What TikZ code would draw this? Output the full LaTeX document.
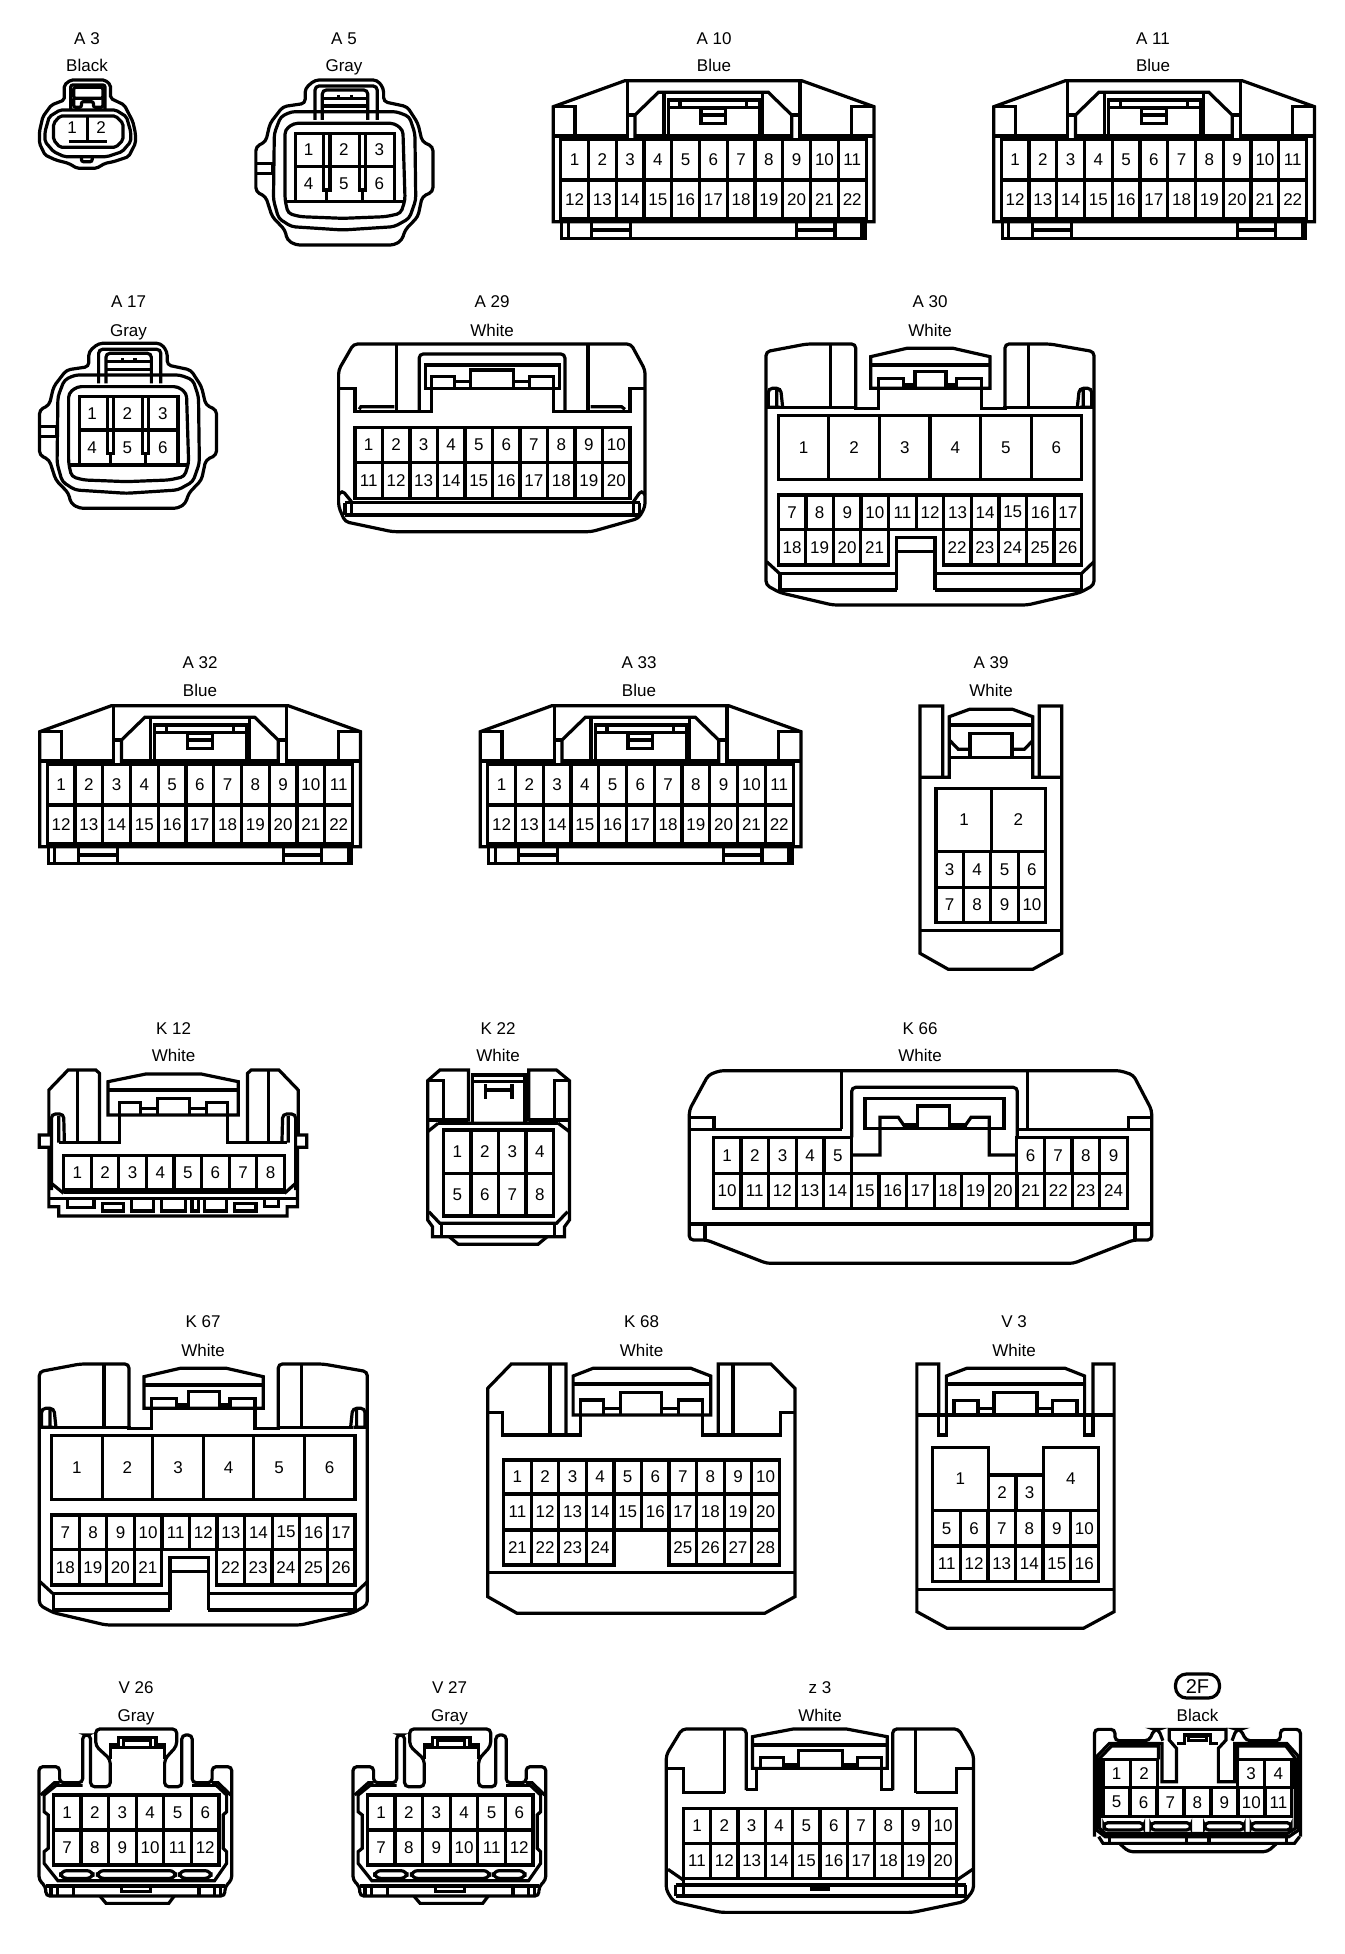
\documentclass[tikz,border=0pt]{standalone}
\usepackage{fontspec}
\setmainfont{Liberation Sans}
\usepackage{tikz}
\tikzset{crop/.style n args = {3}{shift = {(#1, #2)}, xscale = 1/#3, yscale = 1/3}}
\tikzset{pinnum/.style = {font = \fontsize{8.5}{10}\selectfont, inner sep = 0}}
\tikzset{tagtext/.style = {font = \fontsize{8.5}{10}\selectfont, inner sep = 0, text height = 6pt, text depth = 0pt}}
\tikzset{round/.style = {rounded corners = 2pt}}
\tikzset{oval/.style = {draw, rounded corners = 5.5pt, minimum width = 22pt, minimum height = 12pt, inner sep = 0}}

\newcommand{\pinrow}[7]{
    \foreach \n [count = \k from 0] in {#6, ..., #7} {
        \draw ({#2 + \k * #4}, #3) rectangle ++(#4, #5);
        \node [pinnum] (#1-\n) at ({#2 + (\k + .5) * #4}, {#3 + #5 / 2}) {\n};
    }
}
\newcommand{\tagpair}[6]{
    \node [tagtext] (#1-tag) at (#4, #5) {#2};
    \node [tagtext] (#1-color) at (#4, #6) {#3};
}

\newcommand{\bluehousing}[1]{
    \draw (40, 485) -- (40, 140) -- (255, 62) -- (785, 62) -- (1002, 140) -- (1002, 485) -- cycle;
    \draw (65, 487) -- (65, 535) -- (975, 535) -- (975, 487);
    \draw (85, 487) -- (85, 535) (965, 487) -- (965, 535);
    \draw (155, 487) -- (155, 535) (272, 487) -- (272, 535) (155, 510) -- (272, 510);
    \draw (770, 487) -- (770, 535) (885, 487) -- (885, 535) (770, 510) -- (885, 510);
    \draw (40, 140) -- (105, 140) -- (105, 228) (935, 228) -- (935, 140) -- (1002, 140);
    \draw (40, 228) -- (262, 228) (780, 228) -- (1002, 228) (285, 228) -- (755, 228);
    \draw [round] (262, 238) -- (262, 62) (780, 238) -- (780, 62);
    \draw (285, 238) -- (285, 165) -- (355, 97) -- (685, 97) -- (755, 165) -- (755, 238);
    \draw (262, 165) -- (285, 165) (755, 165) -- (780, 165);
    \draw (372, 97) -- (372, 228) (668, 97) -- (668, 228);
    \draw (385, 238) -- (385, 120) -- (660, 120) -- (660, 238);
    \draw (385, 142) -- (660, 142) (420, 120) -- (420, 142) (620, 120) -- (620, 142);
    \draw (483, 145) rectangle (557, 190) (483, 165) -- (557, 165);
    \pinrow{#1}{62}{238}{83.3}{122}{1}{11}
    \pinrow{#1}{62}{360}{83.3}{117}{12}{22}
}

\newcommand{\tabhousing}[1]{
    \draw [round] (712, 310) -- (712, 265) -- (735, 240) -- (880, 240) -- (895, 265) -- (895, 305) -- (950, 320) -- (975, 370) -- (985, 425) -- (1010, 440) -- (1010, 575) -- (985, 590) -- (975, 650) -- (945, 690) -- (938, 720) -- (920, 735) -- (690, 735) -- (670, 720) -- (665, 690) -- (635, 650) -- (620, 590) -- (597, 575) -- (597, 440) -- (620, 425) -- (630, 370) -- (660, 320) -- cycle;
    \draw (600, 490) -- (637, 490) -- (637, 520) -- (600, 520);
    \draw [round] (640, 400) -- (655, 350) -- (680, 335) -- (925, 335) -- (955, 350) -- (968, 400) -- (970, 600) -- (955, 655) -- (920, 680) -- (800, 690) -- (680, 680) -- (650, 655) -- (638, 600) -- cycle;
    \draw [round] (665, 390) -- (685, 370) -- (920, 370) -- (940, 390) -- (945, 600) -- (935, 640) -- (900, 650) -- (800, 655) -- (700, 650) -- (672, 640) -- (665, 600) -- cycle;
    \draw (690, 605) -- (690, 400) -- (920, 400) -- (920, 605);
    \draw (690, 500) -- (920, 500) (665, 605) -- (945, 605);
    \draw (755, 400) -- (755, 570) -- (770, 570) -- (770, 400) (762, 570) -- (762, 605);
    \draw (838, 400) -- (838, 570) -- (852, 570) -- (852, 400) (845, 570) -- (845, 605);
    \draw [round] (735, 360) -- (735, 258) -- (880, 258) -- (880, 360);
    \draw [round] (752, 360) -- (752, 270) -- (858, 270) -- (858, 360);
    \draw (755, 295) -- (855, 295) (755, 318) -- (855, 318) (790, 285) -- (790, 295) (820, 285) -- (820, 295);
    \node [pinnum] (#1-1) at (720, 450) {1};
    \node [pinnum] (#1-2) at (802, 450) {2};
    \node [pinnum] (#1-3) at (885, 450) {3};
    \node [pinnum] (#1-4) at (720, 552) {4};
    \node [pinnum] (#1-5) at (802, 552) {5};
    \node [pinnum] (#1-6) at (885, 552) {6};
}

\newcommand{\widehousing}[1]{
    \draw [round] (347, 385) -- (347, 192) -- (200, 192) -- (78, 215) -- (78, 915) -- (120, 938) -- (278, 975) -- (862, 975) -- (1020, 938) -- (1062, 915) -- (1062, 215) -- (930, 192) -- (795, 192) -- (795, 385);
    \draw (115, 382) -- (347, 382) -- (347, 385) -- (415, 385) -- (415, 325) (725, 325) -- (725, 385) -- (795, 385) -- (795, 382) -- (1020, 382);
    \draw (272, 195) -- (272, 382) (865, 195) -- (865, 382);
    \draw [round] (85, 382) -- (85, 325) -- (122, 325) -- (128, 382) (110, 330) -- (110, 382) (78, 382) -- (120, 382);
    \draw [round] (1055, 382) -- (1055, 325) -- (1018, 325) -- (1012, 382) (1030, 330) -- (1030, 382) (1020, 382) -- (1062, 382);
    \draw (392, 325) -- (392, 230) -- (500, 205) -- (640, 205) -- (750, 230) -- (750, 325) -- cycle;
    \draw (392, 255) -- (750, 255);
    \draw (415, 325) -- (415, 295) -- (490, 295) -- (490, 325) (490, 315) -- (525, 315);
    \draw (525, 325) -- (525, 275) -- (618, 275) -- (618, 325) (618, 315) -- (650, 315);
    \draw (650, 325) -- (650, 295) -- (725, 295) -- (725, 325);
    \pinrow{#1}{115}{407}{151.67}{191}{1}{6}
    \pinrow{#1}{115}{645}{82.73}{103}{7}{17}
    \pinrow{#1}{115}{748}{82.5}{107}{18}{21}
    \pinrow{#1}{610}{748}{83}{107}{22}{26}
    \draw (470, 930) -- (470, 772) -- (585, 772) -- (585, 930) (470, 815) -- (585, 815);
    \draw (120, 880) -- (120, 930) -- (470, 930) (585, 930) -- (1025, 930) -- (1025, 880);
    \draw (115, 880) -- (470, 880) (585, 880) -- (1025, 880);
    \draw (80, 845) -- (118, 880) (1062, 845) -- (1025, 880);
}

\newcommand{\grayhousing}[1]{
    \draw [round] (55, 660) -- (55, 320) -- (115, 320) -- (115, 368) -- (182, 368) -- (182, 225) -- (205, 225) -- (205, 380) -- (262, 380) -- (262, 298) -- (220, 258) -- (220, 207) -- (455, 207) -- (455, 258) -- (420, 298) -- (420, 380) -- (470, 380) -- (470, 225) -- (500, 225) -- (500, 368) -- (558, 368) -- (558, 320) -- (615, 320) -- (615, 660) -- (595, 680) -- (595, 708) -- (75, 708) -- (75, 680) -- cycle;
    \draw (182, 376) -- (105, 376) -- (70, 405) -- (70, 455) -- (82, 465) -- (82, 565) -- (70, 575) -- (70, 610) -- (110, 662) -- (565, 662) -- (600, 610) -- (600, 575) -- (590, 565) -- (590, 465) -- (600, 455) -- (600, 405) -- (570, 376) -- (500, 376);
    \draw (60, 405) -- (100, 368) -- (115, 368) (558, 368) -- (575, 368) -- (612, 405);
    \draw (262, 298) -- (262, 255) -- (285, 255) -- (285, 232) -- (395, 232) -- (395, 255) -- (420, 255) -- (420, 298);
    \draw (300, 240) rectangle (380, 262) (262, 262) -- (420, 262);
    \pinrow{#1}{97}{405}{80.17}{105}{1}{6}
    \pinrow{#1}{97}{510}{80.17}{105}{7}{12}
    \draw [rounded corners = 3pt] (118, 632) rectangle (212, 655);
    \draw [rounded corners = 3pt] (225, 632) rectangle (452, 655);
    \draw [rounded corners = 3pt] (463, 632) rectangle (555, 655);
    \draw (75, 678) -- (595, 678);
    \draw (90, 678) -- (90, 708) (108, 678) -- (108, 708) (155, 678) -- (155, 708);
    \draw (520, 678) -- (520, 708) (565, 678) -- (565, 708) (582, 678) -- (582, 708);
    \draw (295, 678) -- (295, 695) -- (378, 695) -- (378, 678);
    \draw (232, 708) -- (250, 730) -- (432, 730) -- (448, 708);
}

\begin{document}
\begin{tikzpicture}[x = 0.5pt, y = -0.5pt, line width = 1.6pt]
    \useasboundingbox (0, 0) rectangle (1344, 1954);

    \tagpair{A3}{A 3}{Black}{87}{38}{65}
    \tagpair{A5}{A 5}{Gray}{344}{38}{65}
    \tagpair{A10}{A 10}{Blue}{714}{38}{65}
    \tagpair{A11}{A 11}{Blue}{1153}{38}{65}
    \tagpair{A17}{A 17}{Gray}{128.5}{301.5}{330}
    \tagpair{A29}{A 29}{White}{492}{301.5}{330}
    \tagpair{A30}{A 30}{White}{930}{301.5}{330}
    \tagpair{A32}{A 32}{Blue}{200}{662.5}{690}
    \tagpair{A33}{A 33}{Blue}{639}{662.5}{690}
    \tagpair{A39}{A 39}{White}{991}{662.5}{690}
    \tagpair{K12}{K 12}{White}{173.5}{1028}{1055}
    \tagpair{K22}{K 22}{White}{498}{1028}{1055}
    \tagpair{K66}{K 66}{White}{920}{1028}{1055}
    \tagpair{K67}{K 67}{White}{203}{1321.5}{1350}
    \tagpair{K68}{K 68}{White}{641.5}{1321.5}{1350}
    \tagpair{V3}{V 3}{White}{1014}{1321.5}{1350}
    \tagpair{V26}{V 26}{Gray}{136}{1687}{1715}
    \tagpair{V27}{V 27}{Gray}{449.5}{1687}{1715}
    \tagpair{Z3}{z 3}{White}{820}{1687}{1715}
    \node [oval] (F2-tag) at (1197.5, 1686) {2F};
    \node [tagtext] (F2-color) at (1197.5, 1715) {Black};

    \begin{scope}[crop = {0}{0}{2.333}, rounded corners = 1pt]
        \draw (150, 300) -- (150, 255) -- (165, 240) -- (245, 240) -- (258, 255) -- (258, 295) -- (290, 315) -- (310, 365) -- (316, 400) -- (316, 430) -- (300, 470) -- (265, 485) -- (245, 490) -- (225, 505) -- (180, 505) -- (160, 490) -- (130, 480) -- (105, 465) -- (92, 430) -- (92, 395) -- (100, 350) -- (120, 315) -- cycle;
        \draw (105, 395) -- (115, 350) -- (140, 330) -- (270, 330) -- (295, 350) -- (305, 395) -- (305, 425) -- (285, 455) -- (250, 470) -- (150, 470) -- (125, 455) -- (105, 425) -- cycle;
        \draw (125, 370) -- (140, 348) -- (270, 348) -- (287, 370) -- (287, 420) -- (270, 442) -- (140, 442) -- (125, 420) -- cycle;
        \draw (204, 348) -- (204, 425) (160, 424) -- (250, 424);
        \draw (165, 330) -- (165, 255) -- (245, 255) -- (245, 330);
        \draw (172, 295) -- (172, 262) -- (240, 262) -- (240, 295) -- cycle;
        \draw (172, 295) -- (172, 322) -- (190, 322) -- (190, 305) -- (218, 305) -- (218, 322) -- (240, 322) -- (240, 295);
        \draw (190, 470) -- (190, 485) -- (215, 485) -- (215, 470);
        \node [pinnum] (A3-1) at (168, 382) {1};
        \node [pinnum] (A3-2) at (236, 382) {2};
    \end{scope}

    \begin{scope}[crop = {0}{0}{2.333}]
        \tabhousing{A5}
    \end{scope}
    \begin{scope}[crop = {-216.4}{263.3}{2.333}]
        \tabhousing{A17}
    \end{scope}

    \begin{scope}[crop = {540}{60}{3}]
        \bluehousing{A10}
    \end{scope}
    \begin{scope}[crop = {980.5}{60}{3}]
        \bluehousing{A11}
    \end{scope}
    \begin{scope}[crop = {26.5}{685}{3}]
        \bluehousing{A32}
    \end{scope}
    \begin{scope}[crop = {467}{685}{3}]
        \bluehousing{A33}
    \end{scope}

    \begin{scope}[crop = {0}{280}{2.333}]
        \draw [round] (790, 270) -- (825, 192) -- (1472, 192) -- (1505, 270) -- (1505, 680) -- (1490, 715) -- (1380, 755) -- (915, 755) -- (805, 725) -- (790, 680) -- cycle;
        \draw (790, 325) -- (828, 325) -- (828, 395) -- (1007, 395) -- (1007, 325);
        \draw (1292, 325) -- (1292, 395) -- (1470, 395) -- (1470, 325) -- (1505, 325);
        \draw [round] (925, 392) -- (925, 195) (1372, 392) -- (1372, 195);
        \draw [round] (978, 392) -- (978, 222) -- (1318, 222) -- (1318, 392);
        \draw (992, 325) -- (992, 255) -- (1305, 255) -- (1305, 325) -- cycle;
        \draw (1007, 322) -- (1007, 290) -- (1060, 290) -- (1060, 322) (1060, 305) -- (1097, 305);
        \draw (1097, 322) -- (1097, 270) -- (1198, 270) -- (1198, 322) (1198, 305) -- (1235, 305);
        \draw (1235, 322) -- (1235, 290) -- (1292, 290) -- (1292, 322);
        \draw (838, 388) -- (842, 380) -- (920, 380) (1378, 380) -- (1450, 380) -- (1458, 388);
        \pinrow{A29}{828}{442}{64.2}{106}{1}{10}
        \pinrow{A29}{828}{548}{64.2}{107}{11}{20}
        \draw (805, 668) -- (1492, 668) (805, 705) -- (1492, 705);
        \draw (805, 668) -- (805, 705) (820, 668) -- (820, 705) (1478, 668) -- (1478, 705) (1492, 668) -- (1492, 705);
        \draw [round] (790, 645) -- (798, 630) -- (820, 665) (1505, 645) -- (1497, 630) -- (1478, 665);
    \end{scope}

    \begin{scope}[crop = {740}{280}{3}]
        \widehousing{A30}
    \end{scope}
    \begin{scope}[crop = {13.3}{1300}{3}]
        \widehousing{K67}
    \end{scope}

    \begin{scope}[crop = {880}{650}{3}]
        \draw (188, 382) -- (188, 168) -- (120, 168) -- (120, 910) -- (205, 958) -- (458, 958) -- (545, 910) -- (545, 168) -- (478, 168) -- (478, 382);
        \draw (120, 382) -- (208, 382) -- (208, 200) -- (268, 178) -- (398, 178) -- (458, 200) -- (458, 382) -- (545, 382);
        \draw (208, 225) -- (458, 225) (208, 322) -- (458, 322);
        \draw (270, 322) -- (270, 250) -- (396, 250) -- (396, 322);
        \draw (210, 272) -- (235, 298) -- (270, 298) (458, 272) -- (433, 298) -- (396, 298);
        \draw (168, 415) rectangle (335, 605) (335, 415) rectangle (497, 605);
        \node [pinnum] (A39-1) at (252, 510) {1};
        \node [pinnum] (A39-2) at (415, 510) {2};
        \pinrow{A39}{168}{605}{82.25}{107}{3}{6}
        \pinrow{A39}{168}{712}{82.25}{105}{7}{10}
        \draw (120, 842) -- (545, 842);
    \end{scope}

    \begin{scope}[crop = {20}{1010}{2.703}]
        \draw (215, 400) -- (215, 190) -- (205, 180) -- (130, 180) -- (78, 240) -- (78, 375) -- (52, 375) -- (52, 412) -- (78, 412) -- (78, 590) -- (105, 590) -- (105, 618) -- (722, 618) -- (722, 590) -- (750, 590) -- (750, 412) -- (775, 412) -- (775, 375) -- (752, 375) -- (752, 240) -- (700, 180) -- (625, 180) -- (615, 190) -- (615, 400);
        \draw (155, 183) -- (155, 398) (672, 183) -- (672, 398);
        \draw [round] (85, 540) -- (85, 312) -- (118, 312) -- (120, 398) (105, 318) -- (105, 398);
        \draw [round] (745, 540) -- (745, 312) -- (710, 312) -- (708, 398) (725, 318) -- (725, 398);
        \draw (105, 398) -- (268, 398) -- (268, 315) (560, 315) -- (560, 398) -- (722, 398);
        \draw (238, 315) -- (238, 215) -- (340, 192) -- (490, 192) -- (590, 215) -- (590, 315) -- cycle;
        \draw (238, 240) -- (590, 240);
        \draw (268, 315) -- (268, 278) -- (325, 278) -- (325, 312) (325, 295) -- (372, 295);
        \draw (372, 312) -- (372, 265) -- (458, 265) -- (458, 312) (458, 295) -- (505, 295);
        \draw (505, 312) -- (505, 278) -- (560, 278) -- (560, 315);
        \pinrow{K12}{118}{437}{74.6}{103}{1}{8}
        \draw (118, 548) -- (715, 548) (78, 565) -- (750, 565);
        \draw (85, 520) -- (118, 550) (745, 520) -- (715, 550);
        \draw (128, 565) -- (128, 592) -- (200, 592) -- (200, 565);
        \draw (222, 580) rectangle (280, 603);
        \draw (302, 565) -- (302, 603) -- (360, 603) -- (360, 565);
        \draw (382, 565) -- (382, 603) -- (448, 603) -- (448, 565);
        \draw (465, 568) -- (465, 603) -- (482, 603) -- (482, 568);
        \draw (498, 565) -- (498, 603) -- (558, 603) -- (558, 565);
        \draw (580, 580) rectangle (638, 603);
        \draw (660, 568) -- (660, 590) -- (698, 590) -- (698, 568);
    \end{scope}

    \begin{scope}[crop = {20}{1010}{2.703}]
        \draw (1212, 335) -- (1212, 180) -- (1135, 180) -- (1102, 212) -- (1102, 630) -- (1115, 650) -- (1115, 680) -- (1472, 680) -- (1472, 650) -- (1485, 630) -- (1485, 212) -- (1450, 180) -- (1375, 180) -- (1375, 335);
        \draw (1222, 335) -- (1222, 195) -- (1365, 195) -- (1365, 335);
        \draw (1102, 212) -- (1145, 212) -- (1145, 330) (1102, 330) -- (1212, 330);
        \draw (1485, 212) -- (1445, 212) -- (1445, 330) (1375, 330) -- (1485, 330);
        \draw (1222, 215) -- (1365, 215);
        \draw (1258, 222) -- (1258, 268) (1330, 222) -- (1330, 268) (1258, 240) -- (1330, 240);
        \draw (1130, 340) -- (1455, 340) (1102, 365) -- (1130, 340) (1485, 365) -- (1455, 340);
        \pinrow{K22}{1145}{360}{74.25}{130}{1}{4}
        \pinrow{K22}{1145}{490}{74.25}{128}{5}{8}
        \draw (1105, 605) -- (1135, 640) -- (1450, 640) -- (1480, 605);
        \draw (1140, 640) -- (1140, 680) (1445, 640) -- (1445, 680);
        \draw (1160, 680) -- (1185, 703) -- (1400, 703) -- (1425, 680);
    \end{scope}

    \begin{scope}[crop = {670}{1010}{3}]
        \draw [round] (58, 300) -- (115, 195) -- (150, 182) -- (1350, 182) -- (1390, 195) -- (1445, 300) -- (1445, 690) -- (1390, 690) -- (1210, 760) -- (290, 760) -- (110, 690) -- (58, 690) -- cycle;
        \draw (58, 322) -- (132, 322) -- (132, 358) (1375, 358) -- (1375, 322) -- (1445, 322);
        \draw (58, 358) -- (515, 358) (1040, 358) -- (1445, 358);
        \draw [round] (515, 358) -- (515, 182) (1072, 358) -- (1072, 182);
        \draw [round] (545, 382) -- (545, 232) -- (1042, 232) -- (1042, 382);
        \draw (585, 355) -- (585, 265) -- (1002, 265) -- (1002, 355) -- cycle;
        \draw (742, 355) -- (742, 288) -- (838, 288) -- (838, 355);
        \draw (545, 435) -- (630, 435) -- (630, 322) -- (685, 322) -- (708, 355);
        \draw (1040, 435) -- (958, 435) -- (958, 322) -- (903, 322) -- (880, 355);
        \draw (700, 345) -- (742, 345) (838, 345) -- (890, 345);
        \pinrow{K66}{130}{382}{83}{108}{1}{5}
        \pinrow{K66}{1040}{382}{83}{108}{6}{9}
        \pinrow{K66}{130}{490}{82.8}{105}{10}{24}
        \draw (58, 642) -- (1445, 642) (105, 642) -- (105, 690) (1395, 642) -- (1395, 690);
    \end{scope}

    \begin{scope}[crop = {470}{1300}{2.376}]
        \draw (228, 405) -- (228, 192) -- (98, 192) -- (42, 265) -- (42, 890) -- (112, 940) -- (700, 940) -- (772, 890) -- (772, 265) -- (715, 192) -- (590, 192) -- (590, 405);
        \draw (42, 338) -- (78, 338) -- (78, 405) -- (262, 405) -- (262, 345);
        \draw (552, 345) -- (552, 405) -- (738, 405) -- (738, 338) -- (772, 338);
        \draw (190, 195) -- (190, 405) (625, 195) -- (625, 405);
        \draw (245, 345) -- (245, 228) -- (292, 205) -- (525, 205) -- (572, 228) -- (572, 345) -- cycle;
        \draw (245, 252) -- (572, 252);
        \draw (262, 345) -- (262, 300) -- (318, 300) -- (318, 345) (318, 325) -- (358, 325);
        \draw (358, 345) -- (358, 278) -- (455, 278) -- (455, 345) (455, 325) -- (495, 325);
        \draw (495, 345) -- (495, 300) -- (552, 300) -- (552, 345);
        \pinrow{K68}{80}{480}{65.5}{102}{1}{10}
        \pinrow{K68}{80}{582}{65.5}{108}{11}{20}
        \pinrow{K68}{80}{690}{65.5}{105}{21}{24}
        \pinrow{K68}{473}{690}{65.5}{105}{25}{28}
        \draw (42, 818) -- (772, 818);
    \end{scope}

    \begin{scope}[crop = {470}{1300}{2.372}]
        \draw (1112, 345) -- (1112, 192) -- (1060, 192) -- (1060, 935) -- (1132, 985) -- (1455, 985) -- (1528, 935) -- (1528, 192) -- (1478, 192) -- (1478, 345);
        \draw (1060, 345) -- (1528, 345);
        \draw (1112, 345) -- (1112, 405) -- (1130, 405) -- (1130, 345);
        \draw (1458, 345) -- (1458, 405) -- (1478, 405) -- (1478, 345);
        \draw (1130, 345) -- (1130, 228) -- (1178, 205) -- (1412, 205) -- (1458, 228) -- (1458, 345);
        \draw (1130, 252) -- (1458, 252);
        \draw (1148, 345) -- (1148, 302) -- (1205, 302) -- (1205, 345) (1205, 325) -- (1243, 325);
        \draw (1243, 345) -- (1243, 278) -- (1345, 278) -- (1345, 345) (1345, 325) -- (1382, 325);
        \draw (1382, 345) -- (1382, 302) -- (1440, 302) -- (1440, 345);
        \draw (1098, 442) rectangle (1230, 632) (1360, 442) rectangle (1490, 632);
        \node [pinnum] (V3-1) at (1163, 535) {1};
        \node [pinnum] (V3-4) at (1425, 535) {4};
        \pinrow{V3}{1230}{525}{65}{107}{2}{3}
        \pinrow{V3}{1098}{632}{65.33}{106}{5}{10}
        \pinrow{V3}{1098}{738}{65.33}{107}{11}{16}
        \draw (1060, 868) -- (1528, 868);
    \end{scope}

    \begin{scope}[crop = {20}{1660}{2.904}]
        \grayhousing{V26}
    \end{scope}
    \begin{scope}[crop = {334}{1660}{2.904}]
        \grayhousing{V27}
    \end{scope}

    \begin{scope}[crop = {650}{1660}{2.34}]
        \draw [round] (225, 390) -- (225, 207) -- (75, 207) -- (38, 285) -- (38, 690) -- (55, 725) -- (165, 757) -- (615, 757) -- (735, 725) -- (757, 690) -- (757, 285) -- (722, 207) -- (568, 207) -- (568, 390);
        \draw (38, 325) -- (78, 325) -- (78, 398) -- (175, 398) (622, 398) -- (718, 398) -- (718, 325) -- (757, 325);
        \draw [round] (175, 398) -- (175, 210) (622, 398) -- (622, 210);
        \draw (225, 388) -- (250, 388) -- (250, 325) (542, 325) -- (542, 388) -- (568, 388);
        \draw (240, 325) -- (240, 230) -- (335, 207) -- (460, 207) -- (555, 230) -- (555, 325) -- cycle;
        \draw (240, 255) -- (555, 255);
        \draw (258, 325) -- (258, 292) -- (312, 292) -- (312, 325) (312, 315) -- (348, 315);
        \draw (348, 325) -- (348, 272) -- (450, 272) -- (450, 325) (450, 315) -- (485, 315);
        \draw (485, 325) -- (485, 292) -- (542, 292) -- (542, 325);
        \pinrow{Z3}{78}{445}{64}{105}{1}{10}
        \pinrow{Z3}{78}{550}{64}{105}{11}{20}
        \draw (60, 675) -- (740, 675) (60, 708) -- (740, 708);
        \draw (60, 675) -- (60, 708) (78, 660) -- (78, 708) (718, 660) -- (718, 708) (738, 675) -- (738, 708);
        \draw (42, 628) -- (78, 660) (755, 628) -- (718, 660);
        \draw (378, 678) -- (378, 687) -- (418, 687) -- (418, 678);
    \end{scope}

    \begin{scope}[crop = {650}{1660}{2.34}]
        \draw [round] (1040, 530) -- (1040, 208) -- (1088, 208) -- (1088, 242) -- (1168, 242) -- (1180, 208) -- (1190, 208) -- (1200, 242);
        \draw [round] (1522, 530) -- (1522, 208) -- (1475, 208) -- (1475, 242) -- (1395, 242) -- (1382, 208) -- (1372, 208) -- (1362, 242);
        \draw (1045, 290) -- (1075, 250) -- (1198, 250) -- (1198, 365) -- (1232, 365) -- (1232, 265) -- (1215, 240) -- (1215, 208) -- (1348, 208) -- (1348, 240) -- (1330, 265) -- (1330, 365) -- (1368, 365) -- (1368, 250) -- (1490, 250) -- (1518, 290) -- (1518, 510) -- (1495, 530) -- (1065, 530) -- (1045, 510) -- cycle;
        \draw (1190, 298) -- (1190, 258) -- (1080, 258) -- (1052, 295) -- (1052, 505) -- (1065, 520) -- (1492, 520) -- (1510, 505) -- (1510, 295) -- (1488, 258) -- (1375, 258) -- (1375, 298);
        \draw (1232, 250) -- (1250, 250) -- (1250, 225) -- (1312, 225) -- (1312, 250) -- (1330, 250);
        \draw (1260, 228) rectangle (1302, 242);
        \pinrow{F2}{1060}{298}{64}{85}{1}{2}
        \pinrow{F2}{1375}{298}{63.5}{85}{3}{4}
        \pinrow{F2}{1060}{383}{63.14}{87}{5}{11}
        \draw [rounded corners = 2pt] (1062, 488) rectangle (1155, 510);
        \draw [rounded corners = 2pt] (1172, 488) rectangle (1265, 510);
        \draw [rounded corners = 2pt] (1298, 488) rectangle (1390, 510);
        \draw [rounded corners = 2pt] (1407, 488) rectangle (1500, 510);
        \draw (1050, 530) -- (1060, 550) -- (1508, 550) -- (1520, 530);
        \draw (1075, 535) -- (1075, 550) (1255, 535) -- (1255, 550) (1308, 535) -- (1308, 550) (1490, 535) -- (1490, 550);
        \draw [round] (1100, 552) -- (1120, 575) -- (1445, 575) -- (1465, 552);
    \end{scope}
\end{tikzpicture}
\end{document}
